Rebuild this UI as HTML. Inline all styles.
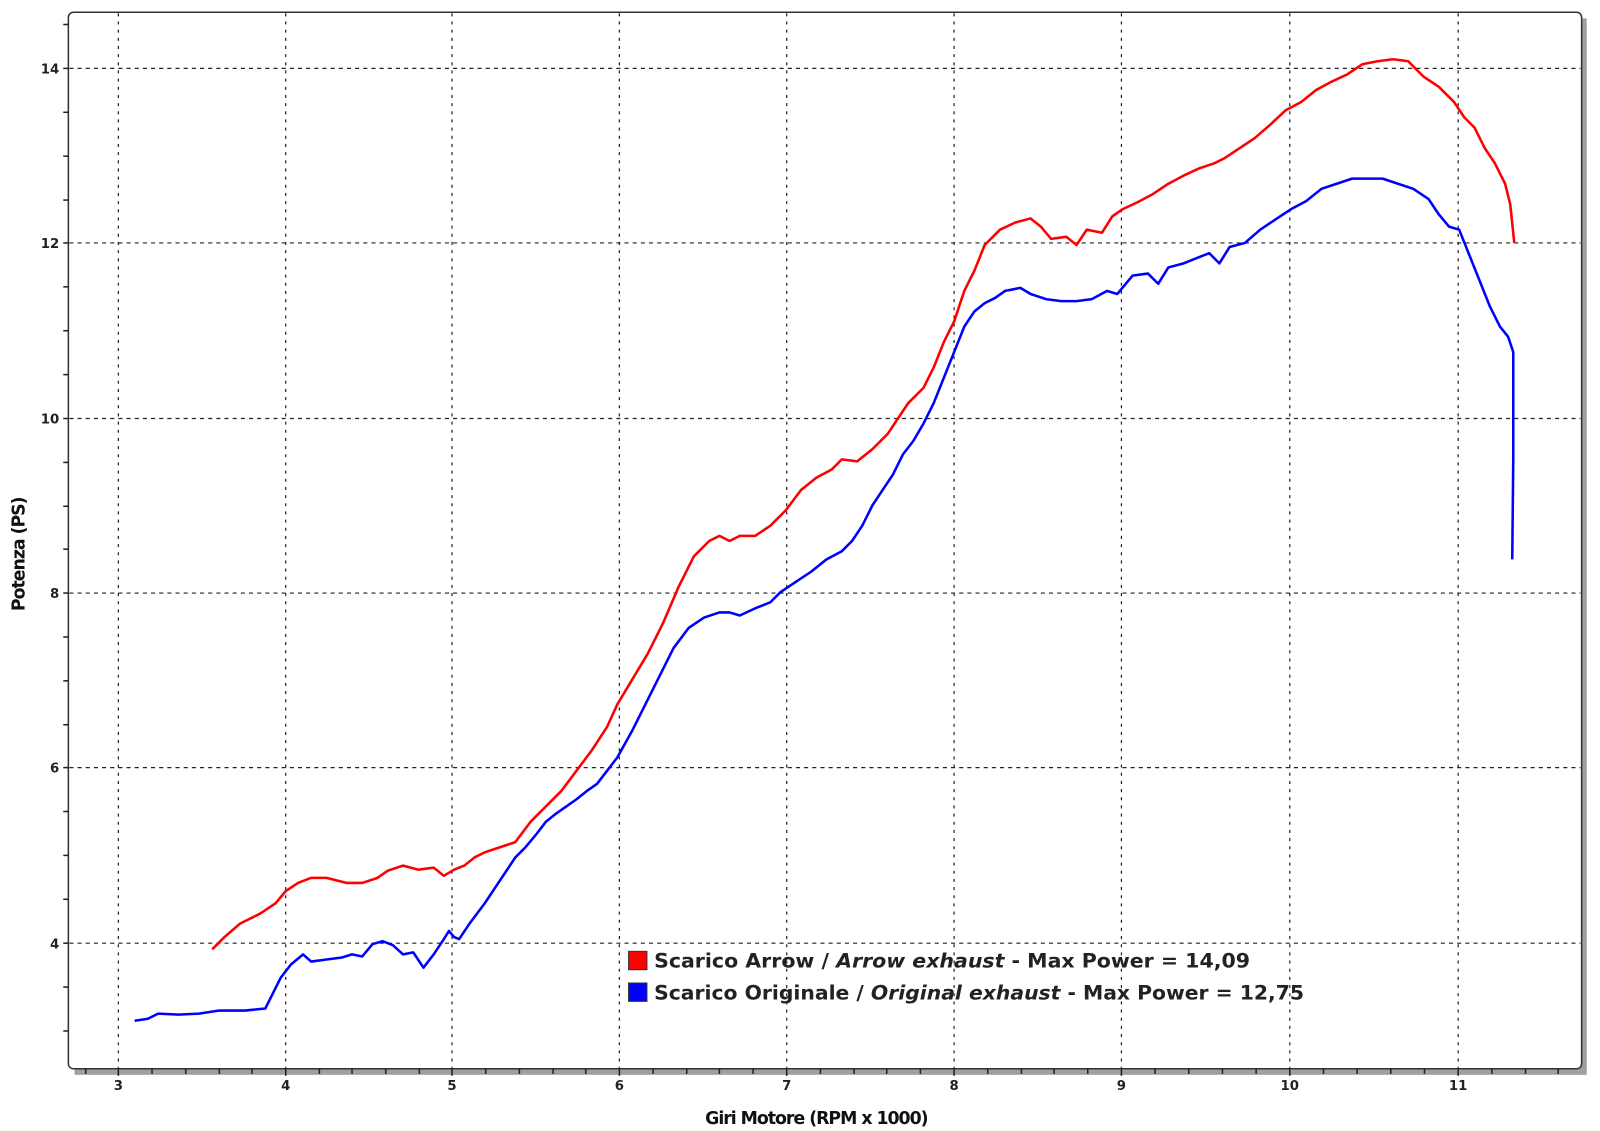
<!DOCTYPE html>
<html><head><meta charset="utf-8"><style>html,body{margin:0;padding:0;background:#fff}svg{display:block}</style></head>
<body>
<svg width="1600" height="1131" viewBox="0 0 1568 1108" preserveAspectRatio="none" xmlns="http://www.w3.org/2000/svg" font-family="DejaVu Sans, Liberation Sans, sans-serif">
<rect x="73" y="18" width="1482" height="1035" fill="#a0a0a0"/>
<rect x="67" y="12" width="1483" height="1035" rx="5" fill="#fff" stroke="#333" stroke-width="1.5"/>
<g stroke="#222" stroke-width="1.2" stroke-dasharray="4,4">
<line x1="116" y1="13" x2="116" y2="1047" stroke-dasharray="3,5"/><line x1="280" y1="13" x2="280" y2="1047" stroke-dasharray="3,5"/><line x1="443" y1="13" x2="443" y2="1047" stroke-dasharray="3,5"/><line x1="607" y1="13" x2="607" y2="1047" stroke-dasharray="3,5"/><line x1="771" y1="13" x2="771" y2="1047" stroke-dasharray="3,5"/><line x1="935" y1="13" x2="935" y2="1047" stroke-dasharray="3,5"/><line x1="1099" y1="13" x2="1099" y2="1047" stroke-dasharray="3,5"/><line x1="1264" y1="13" x2="1264" y2="1047" stroke-dasharray="3,5"/><line x1="1429" y1="13" x2="1429" y2="1047" stroke-dasharray="3,5"/>
<line x1="68" y1="67" x2="1549" y2="67"/><line x1="68" y1="238" x2="1549" y2="238"/><line x1="68" y1="410" x2="1549" y2="410"/><line x1="68" y1="581" x2="1549" y2="581"/><line x1="68" y1="752" x2="1549" y2="752"/><line x1="68" y1="924" x2="1549" y2="924"/>
</g>
<g stroke="#222" stroke-width="1.5">
<line x1="62" y1="24" x2="67" y2="24"/><line x1="62" y1="110" x2="67" y2="110"/><line x1="62" y1="153" x2="67" y2="153"/><line x1="62" y1="196" x2="67" y2="196"/><line x1="62" y1="281" x2="67" y2="281"/><line x1="62" y1="324" x2="67" y2="324"/><line x1="62" y1="367" x2="67" y2="367"/><line x1="62" y1="453" x2="67" y2="453"/><line x1="62" y1="496" x2="67" y2="496"/><line x1="62" y1="538" x2="67" y2="538"/><line x1="62" y1="624" x2="67" y2="624"/><line x1="62" y1="667" x2="67" y2="667"/><line x1="62" y1="710" x2="67" y2="710"/><line x1="62" y1="795" x2="67" y2="795"/><line x1="62" y1="838" x2="67" y2="838"/><line x1="62" y1="881" x2="67" y2="881"/><line x1="62" y1="967" x2="67" y2="967"/><line x1="62" y1="1010" x2="67" y2="1010"/>
<line x1="62" y1="67" x2="67" y2="67"/><line x1="62" y1="238" x2="67" y2="238"/><line x1="62" y1="410" x2="67" y2="410"/><line x1="62" y1="581" x2="67" y2="581"/><line x1="62" y1="752" x2="67" y2="752"/><line x1="62" y1="924" x2="67" y2="924"/>
</g>
<path d="M84 1047v5M116 1047v7M149 1047v5M182 1047v5M215 1047v5M247 1047v5M280 1047v7M313 1047v5M345 1047v5M378 1047v5M411 1047v5M443 1047v7M476 1047v5M509 1047v5M542 1047v5M574 1047v5M607 1047v7M640 1047v5M673 1047v5M705 1047v5M738 1047v5M771 1047v7M804 1047v5M837 1047v5M869 1047v5M902 1047v5M935 1047v7M968 1047v5M1001 1047v5M1033 1047v5M1066 1047v5M1099 1047v7M1132 1047v5M1165 1047v5M1198 1047v5M1231 1047v5M1264 1047v7M1297 1047v5M1330 1047v5M1363 1047v5M1396 1047v5M1429 1047v7M1462 1047v5M1495 1047v5M1527 1047v5" stroke="#222" stroke-width="1.5"/>
<g font-size="13" font-weight="bold" fill="#222" text-anchor="end">
<text x="58" y="72">14</text><text x="58" y="243">12</text><text x="58" y="415">10</text><text x="58" y="586">8</text><text x="58" y="757">6</text><text x="58" y="929">4</text>
</g>
<g font-size="13" font-weight="bold" fill="#222" text-anchor="middle">
<text x="116" y="1068">3</text><text x="280" y="1068">4</text><text x="443" y="1068">5</text><text x="607" y="1068">6</text><text x="771" y="1068">7</text><text x="935" y="1068">8</text><text x="1099" y="1068">9</text><text x="1264" y="1068">10</text><text x="1429" y="1068">11</text>
</g>
<text x="800" y="1101" font-size="17" font-weight="bold" text-anchor="middle" fill="#111" letter-spacing="-1">Giri Motore (RPM x 1000)</text>
<text transform="translate(24,543) rotate(-90)" font-size="17" font-weight="bold" text-anchor="middle" fill="#111" letter-spacing="-1">Potenza (PS)</text>
<polyline fill="none" stroke="#f00" stroke-width="2.5" stroke-linejoin="round" points="208,930 220,918 235,905 255,895 270,885 280,873 292,865 305,860 320,860 340,865 355,865 370,860 380,853 395,848 410,852 425,850 435,858 445,852 455,848 465,840 475,835 490,830 505,825 520,805 535,790 550,775 565,755 580,735 595,712 605,690 620,665 635,640 650,610 665,575 680,545 695,530 705,525 715,530 725,525 740,525 755,515 770,500 785,480 800,468 815,460 825,450 840,452 855,440 870,425 880,410 890,395 905,380 915,360 925,335 935,315 945,285 955,265 965,240 980,225 995,218 1010,214 1020,222 1030,234 1045,232 1055,240 1065,225 1080,228 1090,212 1100,205 1115,198 1130,190 1145,180 1160,172 1175,165 1190,160 1200,155 1215,145 1230,135 1245,122 1260,108 1275,100 1290,88 1305,80 1320,73 1335,63 1350,60 1365,58 1380,60 1395,75 1410,85 1425,100 1435,115 1445,125 1455,145 1465,160 1475,180 1480,200 1484,238"/>
<polyline fill="none" stroke="#00f" stroke-width="2.5" stroke-linejoin="round" points="132,1000 145,998 155,993 175,994 195,993 215,990 225,990 240,990 260,988 265,978 275,958 285,945 297,935 305,942 320,940 335,938 345,935 355,937 365,925 375,922 385,926 395,935 405,933 415,948 425,935 435,920 440,912 445,918 450,920 460,905 475,885 485,870 495,855 505,840 515,830 525,818 535,805 545,797 555,790 565,783 575,775 585,768 595,755 605,742 620,715 635,685 645,665 660,635 675,615 690,605 705,600 715,600 725,603 740,596 755,590 765,580 780,570 795,560 810,548 825,540 835,530 845,515 855,495 865,480 875,465 885,445 895,432 905,415 915,395 925,370 935,345 945,320 955,305 965,297 975,292 985,285 1000,282 1010,288 1025,293 1040,295 1055,295 1070,293 1085,285 1095,288 1110,270 1125,268 1135,278 1145,262 1160,258 1175,252 1185,248 1195,258 1205,242 1220,238 1235,225 1250,215 1265,205 1280,197 1295,185 1310,180 1325,175 1340,175 1355,175 1370,180 1385,185 1400,195 1410,210 1420,222 1430,225 1440,250 1450,275 1460,300 1470,320 1478,330 1483,345 1483,450 1482,548"/>
<rect x="616" y="932" width="18" height="18" fill="#f00" stroke="#333" stroke-width="1"/>
<rect x="616" y="963" width="18" height="18" fill="#00f" stroke="#333" stroke-width="1"/>
<g font-size="19" font-weight="bold" fill="#222">
<text x="641" y="948" textLength="584" lengthAdjust="spacingAndGlyphs">Scarico Arrow / <tspan font-style="italic">Arrow exhaust</tspan> - Max Power = 14,09</text>
<text x="641" y="979" textLength="637" lengthAdjust="spacingAndGlyphs">Scarico Originale / <tspan font-style="italic">Original exhaust</tspan> - Max Power = 12,75</text>
</g>
</svg>
</body></html>
